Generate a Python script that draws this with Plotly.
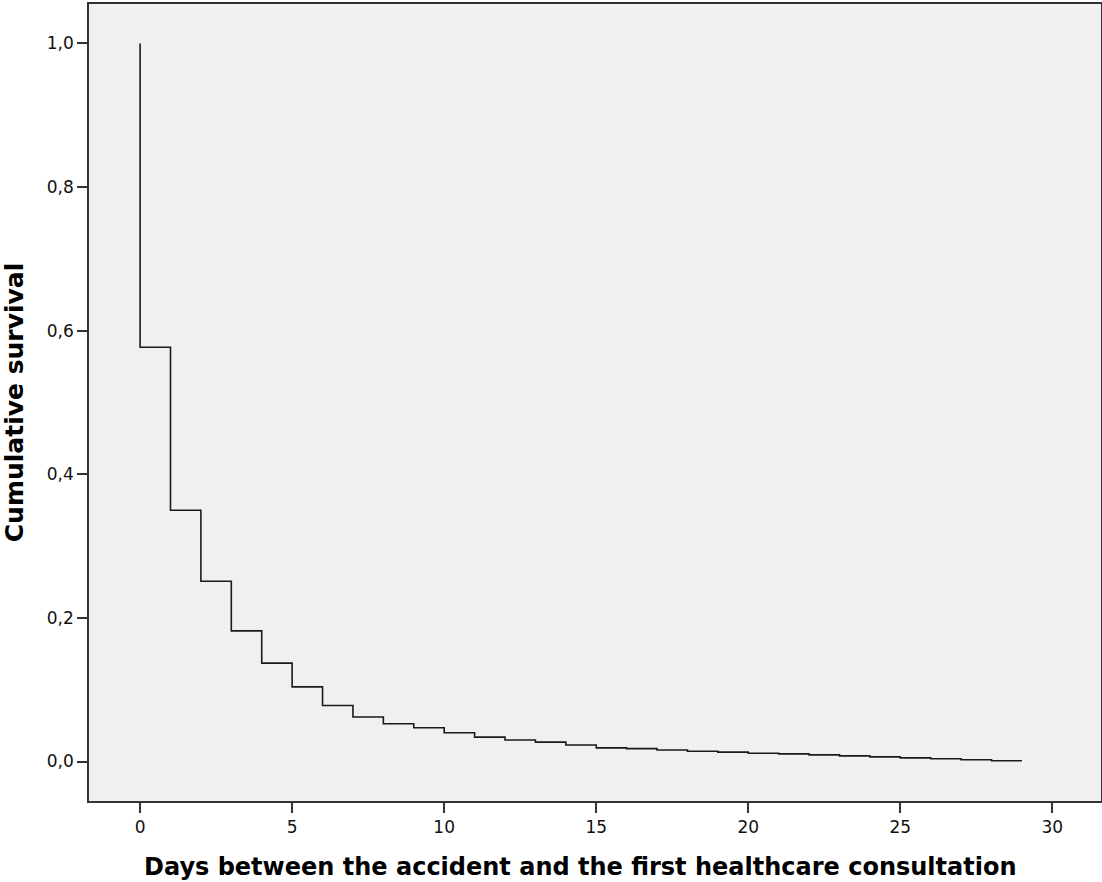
import plotly.graph_objects as go

# Kaplan-Meier style step curve
start_survival = 1.0
days = [0, 1, 2, 3, 4, 5, 6, 7, 8, 9, 10, 11, 12, 13, 14, 15, 16, 17, 18, 19,
        20, 21, 22, 23, 24, 25, 26, 27, 28]
survival = [0.577, 0.350, 0.251, 0.182, 0.137, 0.104, 0.078, 0.062, 0.0525, 0.047,
            0.040, 0.034, 0.030, 0.027, 0.023, 0.019, 0.018, 0.016, 0.0143, 0.013,
            0.0115, 0.0107, 0.0093, 0.0079, 0.0065, 0.0051, 0.0038, 0.0024, 0.001]
last_day = 29

x_ticks = [0, 5, 10, 15, 20, 25, 30]
y_ticks = [0.0, 0.2, 0.4, 0.6, 0.8, 1.0]
x_title = "Days between the accident and the first healthcare consultation"
y_title = "Cumulative survival"

xs = [days[0]] + days + [last_day]
ys = [start_survival] + survival + [survival[-1]]

fig = go.Figure()
fig.add_trace(go.Scatter(x=xs, y=ys, mode="lines", line_shape="hv",
                         line=dict(color="#1a1a1a", width=1.6),
                         hoverinfo="skip", showlegend=False))

axis_common = dict(showline=True, linecolor="#333333", linewidth=1.5, mirror=True,
                   showgrid=False, zeroline=False, ticks="outside", ticklen=10,
                   tickwidth=1.5, tickcolor="#333333", automargin=False,
                   tickfont=dict(family="DejaVu Sans", size=17, color="#111111"))

fig.update_xaxes(range=[-1.68, 31.6], tickvals=x_ticks, **axis_common)
fig.update_yaxes(range=[-0.055, 1.055], tickvals=y_ticks, tickformat=".1f",
                 title=dict(text="<b>" + y_title + "</b>",
                            font=dict(family="DejaVu Sans", size=25, color="#000000"),
                            standoff=18),
                 **axis_common)

plot_left, plot_w = 89, 1012
fig.add_annotation(text="<b>" + x_title + "</b>", xref="paper", yref="paper",
                   x=(580 - plot_left) / plot_w, y=0, yshift=-66,
                   xanchor="center", yanchor="middle", showarrow=False,
                   font=dict(family="DejaVu Sans", size=24, color="#000000"))

fig.update_layout(width=1102, height=882, separators=", ",
                  margin=dict(l=89, r=1, t=4, b=81, autoexpand=False),
                  plot_bgcolor="#f0f0f0", paper_bgcolor="#ffffff",
                  font=dict(family="DejaVu Sans"))

fig.write_html("out.html", config={"displayModeBar": False},
               post_script="document.body.style.margin='0';")
